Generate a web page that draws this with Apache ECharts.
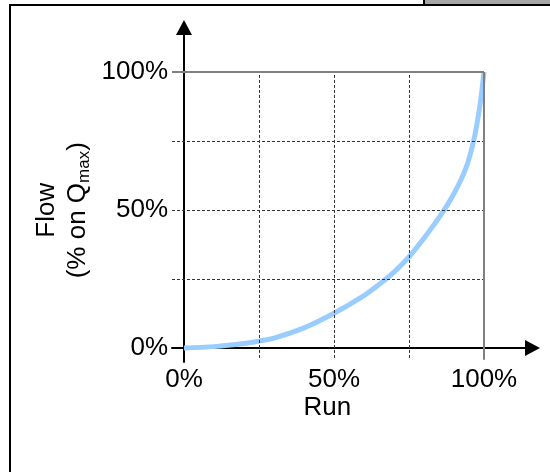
<!DOCTYPE html>
<html>
<head>
<meta charset="utf-8">
<script src="https://cdn.jsdelivr.net/npm/echarts@6/dist/echarts.min.js"></script>
<style>
  html, body { margin: 0; padding: 0; background: #fff; }
  #main { width: 550px; height: 472px; }
</style>
</head>
<body>
<div id="main"></div>
<script>
// valve characteristic (run % -> flow % of Qmax)
const runPct  = [0, 10, 20, 25, 30, 40, 50, 60, 65, 70, 75, 80, 85, 90, 94, 96.5, 98.5, 100];
const flowPct = [0, 0.5, 1.6, 2.5, 3.6, 7.3, 12.6, 19, 23, 27.5, 33, 39.8, 47.2, 56, 65.3, 74.8, 86.8, 100];

const labelTicks = [0, 50, 100];   // labelled values on both axes
const dashTicks = [25, 50, 75];    // dotted grid
const edgeTick = 100;              // solid grey grid line

const FONT = 'Liberation Sans, Arial, sans-serif';
const chart = echarts.init(document.getElementById('main'));

// grid lines as mark lines so they can run past the axes like the original
let gridLines = [];
dashTicks.forEach(v => {
  gridLines.push([{ coord: [v, -3.6] }, { coord: [v, edgeTick] }]);
  gridLines.push([{ coord: [-4, v] }, { coord: [edgeTick, v] }]);
});
const solid = { type: 'solid', color: '#808080', width: 2 };
gridLines.push([{ coord: [edgeTick, -4.3], lineStyle: solid }, { coord: [edgeTick, edgeTick], lineStyle: solid }]);
gridLines.push([{ coord: [-4, edgeTick], lineStyle: solid }, { coord: [edgeTick, edgeTick], lineStyle: solid }]);

const arrowLine = {
  onZero: true,
  symbol: ['none', 'triangle'],
  symbolSize: [16, 15],
  lineStyle: { color: '#000', width: 2 }
};

chart.setOption({
  animation: false,
  backgroundColor: '#fff',
  textStyle: { fontFamily: FONT },
  grid: { left: 172, top: 27.5, width: 360.5, height: 334.5, outerBoundsMode: 'none' },
  xAxis: {
    type: 'value',
    min: -4,
    max: 116.17,
    axisLine: arrowLine,
    axisTick: { show: false },
    splitLine: { show: false },
    axisLabel: {
      customValues: labelTicks,
      formatter: v => v + '%',
      fontSize: 26, color: '#000', margin: 5, fontFamily: FONT
    },
    name: 'Run',
    nameLocation: 'middle',
    nameGap: 33,
    nameMoveOverlap: false,
    nameTextStyle: { fontSize: 26, color: '#000', fontFamily: FONT, padding: [0, 50, 0, 0] }
  },
  yAxis: {
    type: 'value',
    min: -5.07,
    max: 116.12,
    axisLine: arrowLine,
    axisTick: { show: false },
    splitLine: { show: false },
    axisLabel: {
      customValues: labelTicks,
      formatter: v => v + '%',
      fontSize: 26, color: '#000', margin: 4, fontFamily: FONT
    },
    name: '{a|Flow}\n{a|(% on Q}{s|max}{a|)}',
    nameLocation: 'middle',
    nameRotate: 90,
    nameGap: 79,
    nameMoveOverlap: false,
    nameTextStyle: {
      color: '#000',
      fontFamily: FONT,
      padding: [0, 31, 0, 0],
      rich: {
        a: { fontSize: 26, lineHeight: 31, color: '#000', fontFamily: FONT },
        s: { fontSize: 17, lineHeight: 14, verticalAlign: 'bottom', color: '#000', fontFamily: FONT }
      }
    }
  },
  series: [{
    type: 'line',
    data: runPct.map((r, i) => [r, flowPct[i]]),
    smooth: 0.3,
    showSymbol: false,
    symbol: 'none',
    lineStyle: { color: '#99ccff', width: 5 },
    silent: true,
    markLine: {
      silent: true,
      symbol: ['none', 'none'],
      label: { show: false },
      lineStyle: { type: [3, 2], color: '#333', width: 1 },
      data: gridLines
    }
  }],
  graphic: [
    // frame around the figure, plus the grey tab clipped at the top
    { type: 'rect', z: 100, shape: { x: 10, y: 5, width: 600, height: 600 },
      style: { fill: 'none', stroke: '#000', lineWidth: 2 } },
    { type: 'rect', z: 100, shape: { x: 424, y: -5, width: 140, height: 10 },
      style: { fill: '#a6a6a6', stroke: '#000', lineWidth: 2 } }
  ]
});
</script>
</body>
</html>
